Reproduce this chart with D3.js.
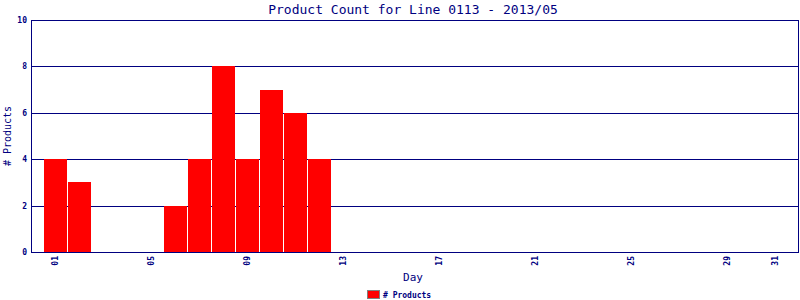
<!DOCTYPE html>
<html>
<head>
<meta charset="utf-8">
<script src="https://cdn.jsdelivr.net/npm/d3@7"></script>
<style>
  body { margin: 0; background: #fff; }
  text { font-family: "DejaVu Sans Mono", monospace; fill: #000080; }
</style>
</head>
<body>
<script>
// chart data
var days = [1, 2, 6, 7, 8, 9, 10, 11, 12];
var counts = [4, 3, 2, 4, 8, 4, 7, 6, 4];
var dayTicks = [1, 5, 9, 13, 17, 21, 25, 29, 31];
var countTicks = [0, 2, 4, 6, 8, 10];

var navy = "#000080";
var svg = d3.select("body").append("svg")
  .attr("width", 800)
  .attr("height", 300);

var x = d3.scaleLinear().domain([0, 32]).range([31, 799]);
var y = d3.scaleLinear().domain([0, 10]).range([252, 20]);

// title
svg.append("text")
  .attr("x", 413).attr("y", 14)
  .attr("text-anchor", "middle")
  .attr("font-size", "13px")
  .text("Product Count for Line 0113 - 2013/05");

// grid lines
svg.append("g").selectAll("line")
  .data(countTicks)
  .enter().append("line")
  .attr("x1", x(0)).attr("x2", x(32))
  .attr("y1", function(d) { return Math.round(y(d)) + 0.5; })
  .attr("y2", function(d) { return Math.round(y(d)) + 0.5; })
  .attr("stroke", navy)
  .attr("stroke-width", 1);

// bars
svg.append("g").selectAll("rect")
  .data(days)
  .enter().append("rect")
  .attr("x", function(d) { return x(d - 0.5) + 1; })
  .attr("width", function(d) { return x(d + 0.5) - x(d - 0.5) - 1; })
  .attr("y", function(d, i) { return Math.round(y(counts[i])); })
  .attr("height", function(d, i) { return Math.round(y(0)) - Math.round(y(counts[i])); })
  .attr("fill", "#ff0000");

// frame
svg.append("line")
  .attr("x1", 31.5).attr("x2", 31.5).attr("y1", 20).attr("y2", 253)
  .attr("stroke", navy);
svg.append("line")
  .attr("x1", 798.5).attr("x2", 798.5).attr("y1", 20).attr("y2", 253)
  .attr("stroke", navy);
svg.append("line")
  .attr("x1", 31).attr("x2", 799).attr("y1", 252.5).attr("y2", 252.5)
  .attr("stroke", navy);

// y tick labels
svg.append("g").selectAll("text")
  .data(countTicks)
  .enter().append("text")
  .attr("x", 27)
  .attr("y", function(d) { return y(d) + 3; })
  .attr("text-anchor", "end")
  .attr("font-size", "8px")
  .attr("font-weight", "bold")
  .text(function(d) { return d; });

// x tick labels (rotated)
svg.append("g").selectAll("text")
  .data(dayTicks)
  .enter().append("text")
  .attr("transform", function(d) { return "translate(" + (x(d) + 3) + ",256) rotate(-90)"; })
  .attr("text-anchor", "end")
  .attr("font-size", "8px")
  .attr("font-weight", "bold")
  .text(function(d) { return d3.format("02d")(d); });

// axis titles
svg.append("text")
  .attr("x", 413).attr("y", 281)
  .attr("text-anchor", "middle")
  .attr("font-size", "11px")
  .text("Day");
svg.append("text")
  .attr("transform", "translate(11,136) rotate(-90)")
  .attr("text-anchor", "middle")
  .attr("font-size", "10px")
  .text("# Products");

// legend
svg.append("rect")
  .attr("x", 367.5).attr("y", 290.5).attr("width", 12).attr("height", 8)
  .attr("fill", "#ff0000").attr("stroke", "#808080");
svg.append("text")
  .attr("x", 383).attr("y", 298)
  .attr("font-size", "8px")
  .attr("font-weight", "bold")
  .text("# Products");
</script>
</body>
</html>
